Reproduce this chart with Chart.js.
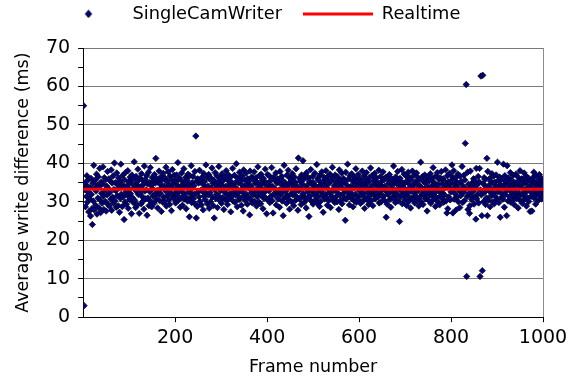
<!DOCTYPE html>
<html>
<head>
<meta charset="utf-8">
<script src="https://cdn.jsdelivr.net/npm/chart.js@4/dist/chart.umd.min.js"></script>
<style>
html,body{margin:0;padding:0;background:#fff;}
#wrap{width:568px;height:379px;}
</style>
</head>
<body>
<div id="wrap"><canvas id="c" width="568" height="379"></canvas></div>
<script>
// ---- data ----
const seriesName = 'SingleCamWriter';
const lineName = 'Realtime';
const xTickLabels = [200, 400, 600, 800, 1000];
const yTickLabels = [0, 10, 20, 30, 40, 50, 60, 70];
const realtimeX = [0, 1000];
const realtimeY = [33.3, 33.3];
const writeDiffMs = [
55,3,34.5,33.1,28.7,35.2,31.4,36.8,29.9,34.0,32.6,27.4,35.9,30.8,33.7,26.3,36.1,31.9,28.2,24.1,34.8,30.2,39.5,27.9,33.4,
35.6,29.1,32.8,37.2,26.8,34.3,31.0,36.5,28.4,33.9,38.7,30.5,27.2,35.1,32.2,29.6,34.7,39.1,31.5,28.0,36.3,33.0,30.1,35.8,27.6,
34.1,31.8,37.9,29.3,33.5,36.0,28.9,32.4,35.4,30.7,38.3,27.8,34.9,31.2,36.7,29.7,33.2,40.1,30.3,35.0,32.9,28.6,37.5,31.6,34.4,
29.0,36.2,33.6,27.3,35.5,30.9,39.8,32.0,34.6,28.8,36.9,31.3,33.8,25.4,35.7,30.0,37.6,32.5,29.4,34.2,31.7,38.1,28.3,35.3,33.3,
30.6,36.4,32.1,34.8,26.9,37.0,31.1,35.9,29.8,33.6,40.4,30.4,34.3,28.5,36.6,32.7,35.2,29.2,38.5,31.9,34.0,27.0,36.1,32.3,33.9,
29.5,37.3,31.4,35.6,30.2,34.5,28.1,39.3,32.8,35.8,30.8,33.1,36.8,26.5,34.7,31.0,37.7,29.0,35.0,32.6,38.9,30.1,34.2,28.7,36.3,
33.4,31.5,35.4,29.6,37.1,32.0,34.9,41.3,30.6,36.0,33.0,28.4,35.1,31.8,38.0,30.3,34.6,32.2,36.5,27.5,33.7,35.7,29.9,37.4,31.2,
34.1,30.0,36.2,32.9,39.0,28.9,35.3,31.6,33.5,37.8,30.5,34.4,29.3,36.7,32.4,35.9,27.7,33.8,38.4,31.3,34.8,30.9,36.9,32.1,35.5,
29.7,33.2,37.0,31.7,34.3,40.2,30.4,35.8,32.7,36.1,28.6,34.0,31.1,37.5,33.6,29.1,35.2,32.3,38.6,30.7,34.7,31.4,36.4,28.2,33.9,
35.6,30.2,37.2,32.5,34.5,26.1,36.8,31.0,33.3,39.4,29.8,35.0,32.0,36.6,30.8,34.2,31.9,37.9,29.4,47.1,25.8,35.4,28.8,36.0,32.6,
34.9,31.3,38.2,30.1,35.7,33.0,29.2,36.3,32.8,34.6,27.9,37.4,31.5,35.3,30.6,33.7,39.6,32.2,36.5,29.5,34.1,31.8,37.1,28.3,35.9,
32.4,30.0,36.2,33.5,38.8,31.2,34.8,29.0,35.6,25.8,33.2,37.6,30.9,34.3,32.0,36.8,28.5,35.1,31.6,39.2,33.8,30.3,36.1,32.9,34.5,
29.6,37.3,31.1,35.5,33.0,28.0,36.6,32.5,34.0,30.5,38.1,31.9,35.8,29.3,33.6,37.0,30.8,34.7,32.1,36.4,27.4,35.2,31.4,33.9,38.7,
30.2,34.4,32.7,36.9,29.9,35.0,31.7,39.9,33.4,28.7,36.2,32.3,34.9,30.6,37.7,31.0,35.4,33.1,29.1,36.7,32.6,34.2,27.6,38.3,31.5,
35.7,30.4,33.8,37.4,32.0,34.6,29.4,36.0,31.2,35.3,33.5,26.6,38.0,30.7,34.1,32.4,36.5,29.7,35.9,31.8,33.0,37.8,30.1,34.8,32.8,
36.3,28.9,35.1,31.3,39.1,33.7,30.0,36.8,32.2,34.3,29.5,37.2,31.6,35.6,33.2,28.2,36.1,30.9,34.7,32.5,38.5,31.0,35.0,26.9,33.6,
37.1,30.5,34.5,32.9,36.7,29.8,35.4,31.4,33.9,38.9,30.3,34.0,27.1,36.4,32.1,35.8,31.7,33.3,37.5,29.2,34.9,32.6,36.0,30.8,35.2,
33.1,28.6,37.9,31.9,34.6,32.3,36.6,30.2,35.5,26.4,33.8,39.5,31.1,35.0,32.7,34.2,29.6,36.9,31.5,33.5,38.2,30.6,34.8,28.1,36.2,
32.0,35.7,30.0,34.3,37.3,31.8,33.0,29.0,36.5,32.4,35.1,30.4,38.6,33.7,31.2,34.0,27.8,41.4,32.9,36.1,30.7,35.3,33.4,29.3,37.0,
31.6,34.6,40.7,32.1,35.9,29.9,36.8,31.0,33.6,28.4,37.6,30.9,34.4,32.5,36.3,26.2,35.4,31.4,33.1,38.4,30.2,34.7,32.8,36.6,29.4,
35.0,31.9,33.9,37.4,30.5,34.1,32.2,39.7,29.7,36.0,31.3,35.6,33.2,28.8,36.9,30.1,34.5,32.6,37.8,31.7,35.2,27.3,33.7,36.4,30.8,
34.3,32.0,38.1,31.1,35.8,29.1,33.4,36.7,30.3,34.8,32.4,37.2,28.5,35.5,31.5,33.0,39.0,30.6,36.2,32.9,34.2,29.8,37.0,31.2,35.1,
33.5,30.0,36.5,32.3,34.6,28.0,38.3,31.8,35.7,30.4,33.8,37.5,29.5,34.9,32.1,36.1,31.0,35.3,33.1,25.2,37.7,30.7,34.4,32.7,39.8,
31.4,35.9,33.3,29.2,36.8,32.5,34.0,30.9,37.3,31.6,35.4,28.7,33.6,36.4,30.2,34.7,32.0,38.6,29.9,35.6,31.3,33.9,37.1,30.5,34.2,
32.8,36.0,29.6,35.1,31.7,33.2,38.0,30.1,34.5,32.2,36.7,28.3,35.8,31.0,33.7,37.6,30.6,34.9,32.4,35.2,29.3,36.3,31.5,33.4,38.8,
30.3,34.1,32.6,36.9,29.0,35.5,31.8,33.0,37.4,30.8,34.6,31.9,36.2,32.1,35.0,31.2,33.8,38.2,29.7,34.3,32.7,36.6,30.0,35.3,31.6,
33.9,37.8,31.4,35.7,30.4,34.0,32.9,36.4,26.0,33.3,29.4,35.9,31.9,34.8,32.3,37.1,30.6,35.4,28.6,33.6,36.0,31.1,34.4,32.5,39.3,
30.9,35.2,33.1,29.8,36.5,31.7,34.7,32.0,37.9,30.2,35.6,33.5,24.9,36.1,31.3,34.2,32.8,38.4,29.5,35.0,31.8,33.7,37.2,30.5,34.9,
32.2,36.8,29.1,35.4,31.5,33.2,37.7,30.1,34.6,32.6,36.3,28.4,35.8,31.0,33.9,38.0,30.7,34.3,32.4,36.9,29.7,35.1,31.6,33.0,37.5,
30.4,34.5,32.9,36.2,28.9,35.7,31.2,34.1,40.3,30.0,33.6,32.1,36.6,29.3,35.3,31.9,33.4,37.0,30.8,34.8,32.5,35.9,27.6,36.4,31.4,
33.8,30.3,35.5,32.7,37.3,29.6,34.0,31.7,36.1,33.1,38.9,30.6,35.0,32.2,34.6,28.8,36.7,31.1,33.5,37.6,30.1,34.4,32.8,35.8,29.2,
36.3,31.5,33.2,37.9,30.9,34.7,32.3,36.0,29.9,35.4,31.8,33.7,38.3,30.2,34.2,27.1,36.8,28.2,35.2,31.3,33.9,37.4,30.5,34.9,32.6,
35.6,39.6,36.5,27.1,33.3,38.1,30.7,34.5,32.1,36.2,27.9,35.1,31.2,33.6,37.2,30.0,34.8,32.9,28.5,36.7,31.6,35.3,33.0,39.2,29.8,
34.1,32.4,36.9,30.3,35.7,45.2,33.4,60.5,10.6,31.4,37.7,28.0,34.6,32.2,27.0,29.0,38.0,33.8,31.5,30.6,34.9,34.3,32.7,36.0,29.4,
35.5,31.2,33.6,25.5,38.7,30.8,34.4,32.0,36.6,29.7,35.2,38.7,10.6,33.1,62.7,31.8,26.4,12.1,62.9,34.7,30.1,36.3,32.5,35.8,29.3,
33.9,31.0,41.3,26.4,37.9,30.4,34.2,32.8,36.1,28.7,35.4,31.6,33.2,37.3,30.0,34.8,32.3,36.7,29.5,35.1,31.4,33.7,37.0,30.6,34.0,
40.3,32.6,35.6,29.8,33.4,36.4,26.0,34.5,31.1,35.9,32.1,33.8,30.7,39.8,34.3,28.6,36.8,31.9,35.3,32.9,26.4,39.4,33.5,30.2,36.2,
34.6,31.3,33.0,37.6,29.9,35.7,32.4,34.1,30.5,36.9,31.7,33.6,29.2,35.0,32.2,37.2,30.9,34.7,32.7,36.5,28.4,35.4,31.5,33.9,38.1,
30.3,34.4,32.0,36.0,29.6,35.8,31.8,33.3,37.5,30.7,34.9,32.5,36.7,28.9,35.2,31.1,33.7,36.2,30.1,34.0,32.8,27.5,35.6,31.4,33.1,
27.6,34.6,32.3,36.4,37.7,31.0,35.1,33.5,29.4,36.8,31.9,34.2,32.6,35.5,30.4,33.8,37.1,31.6,34.8,32.1,36.2,30.8,35.3,33.0,34.5
];
// frame numbers are simply 1..N (category of each measurement)
const frameNumbers = writeDiffMs.map((_, i) => i + 1);

// ---- chart ----
const FONT = 'DejaVu Sans';
Chart.defaults.font.family = FONT;
Chart.defaults.color = '#000';

// small diamond image used as the legend symbol of the scatter series
const legendDiamond = document.createElement('canvas');
legendDiamond.width = 9; legendDiamond.height = 9;
(function(){
  const g = legendDiamond.getContext('2d');
  g.beginPath(); g.moveTo(4.5, 0.8); g.lineTo(7.8, 4.5); g.lineTo(4.5, 8.2); g.lineTo(1.2, 4.5); g.closePath();
  g.fillStyle = '#000080'; g.fill(); g.strokeStyle = '#000'; g.lineWidth = 0.8; g.stroke();
})();

const legendPlacer = {
  id: 'legendPlacer',
  beforeLayout(chart) {
    const lg = chart.legend;
    if (lg && !lg._patchedFit) {
      const orig = lg.fit;
      lg.fit = function(){ orig.call(this); this.height = 48; };
      lg._patchedFit = true;
    }
  },
  afterLayout(chart) {
    const lg = chart.legend;
    if (!lg) return;
    lg.left = 32.5; lg.right = 568; lg.top = -16; lg.bottom = 42;
  }
};

new Chart(document.getElementById('c'), {
  type: 'scatter',
  data: {
    datasets: [
      {
        label: seriesName,
        data: frameNumbers.map((f, i) => ({x: f, y: writeDiffMs[i]})),
        pointStyle: 'rectRot',
        pointRadius: 3.2,
        pointHoverRadius: 3.2,
        backgroundColor: '#000080',
        borderColor: '#000000',
        borderWidth: 0.7,
        order: 2
      },
      {
        type: 'line',
        label: lineName,
        data: realtimeX.map((x, i) => ({x: x, y: realtimeY[i]})),
        showLine: true,
        borderColor: '#ff0000',
        backgroundColor: '#ff0000',
        borderWidth: 3,
        pointRadius: 0,
        pointStyle: 'line',
        fill: false,
        order: 1
      }
    ]
  },
  options: {
    responsive: false,
    animation: false,
    devicePixelRatio: 1,
    layout: { padding: 0 },
    plugins: {
      tooltip: { enabled: false },
      legend: {
        display: true,
        position: 'top',
        align: 'start',
        labels: {
          usePointStyle: true,
          pointStyleWidth: 70,
          boxHeight: 6,
          padding: 21,
          font: { family: FONT, size: 17.8 },
          color: '#000',
          sort: (a, b) => a.datasetIndex - b.datasetIndex,
          generateLabels(chart) {
            const items = Chart.defaults.plugins.legend.labels.generateLabels(chart);
            items.forEach(it => {
              if (it.datasetIndex === 0) { it.pointStyle = legendDiamond; }
              else { it.pointStyle = 'line'; it.lineWidth = 3; it.strokeStyle = '#ff0000'; }
            });
            return items;
          }
        }
      }
    },
    scales: {
      x: {
        type: 'linear',
        min: 0, max: 1000,
        afterFit: (scale) => { scale.paddingRight = 25; },
        ticks: {
          stepSize: 200,
          autoSkip: false,
          maxRotation: 0,
          padding: 4,
          font: { family: FONT, size: 19 },
          color: '#000',
          callback: (v) => xTickLabels.includes(v) ? String(v) : ''
        },
        grid: {
          drawOnChartArea: true,
          drawTicks: true,
          tickLength: 5,
          color: (c) => (c.tick && c.tick.value === 1000) ? '#8c8c8c' : 'rgba(0,0,0,0)',
          tickColor: (c) => (c.tick && c.tick.value === 0) ? 'rgba(0,0,0,0)' : '#000'
        },
        border: { display: true, color: '#000', width: 1 },
        title: {
          display: true,
          text: 'Frame number',
          font: { family: FONT, size: 17.5 },
          color: '#000',
          padding: { top: 4, bottom: 1 }
        }
      },
      y: {
        type: 'linear',
        min: 0, max: 70,
        ticks: {
          stepSize: 5,
          autoSkip: false,
          padding: 8,
          font: { family: FONT, size: 19 },
          color: '#000',
          callback: (v) => yTickLabels.includes(v) ? String(v) : ''
        },
        grid: {
          drawTicks: true,
          tickLength: 5,
          color: (c) => (c.tick && c.tick.value % 10 === 0) ? '#7a7a7a' : 'rgba(0,0,0,0)',
          tickColor: '#000'
        },
        border: { display: true, color: '#000', width: 1 },
        title: {
          display: true,
          text: 'Average write difference (ms)',
          font: { family: FONT, size: 17.5 },
          color: '#000',
          padding: { top: 12.5, bottom: 4.5 }
        }
      }
    }
  },
  plugins: [legendPlacer]
});
</script>
</body>
</html>
